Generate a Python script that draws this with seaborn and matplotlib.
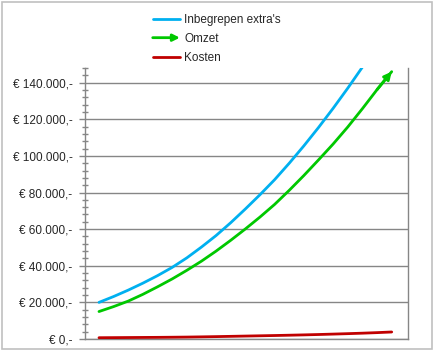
import matplotlib
matplotlib.use("Agg")
import matplotlib.pyplot as plt
import seaborn as sns
import pandas as pd
from matplotlib.patches import FancyArrowPatch, Rectangle
from matplotlib.legend_handler import HandlerBase
from matplotlib.lines import Line2D
from matplotlib.ticker import MultipleLocator, FuncFormatter

# ---- data ----
x_vals = [0, 5, 10, 15, 20, 25, 30, 35, 40, 45, 50, 55, 60, 65, 70, 75, 80, 85, 90, 95, 100]
inbegrepen = [20000, 23200, 26700, 30500, 34600, 39100, 44300, 50200, 56500, 63500, 71000,
              78800, 87000, 96000, 105500, 115500, 126000, 137000, 148500, 160500, 173000]
omzet = [15000, 17700, 20700, 24400, 28500, 32800, 37500, 42500, 48000, 53900, 60100,
         66600, 73500, 81200, 89300, 97800, 106500, 115800, 125800, 136200, 146000]
kosten = [700, 750, 800, 850, 900, 970, 1050, 1170, 1300, 1450, 1600,
          1750, 1900, 2070, 2250, 2450, 2680, 2920, 3180, 3480, 3830]
series_names = ["Inbegrepen extra's", "Omzet", "Kosten"]
colors = ["#00b0f0", "#00c800", "#c00000"]

sns.set_theme(style="white")
plt.rcParams["font.family"] = ["Liberation Sans", "DejaVu Sans"]

n = len(x_vals)
df = pd.DataFrame({
    "x": x_vals * 3,
    "waarde": inbegrepen + omzet + kosten,
    "reeks": [series_names[0]] * n + [series_names[1]] * n + [series_names[2]] * n,
})

fig = plt.figure(figsize=(4.34, 3.5), dpi=100)
ax = fig.add_axes([85 / 434, 11 / 350, (407.5 - 85) / 434, (339 - 68) / 350])

sns.lineplot(data=df, x="x", y="waarde", hue="reeks", palette=colors,
             hue_order=series_names, linewidth=2.0, ax=ax, legend=False, zorder=3)

# arrow head at end of Omzet
ax.annotate("", xy=(x_vals[-1], omzet[-1]), xytext=(x_vals[-2], omzet[-2]),
            arrowprops=dict(arrowstyle="-|>", color=colors[1], lw=2.0, mutation_scale=11,
                            shrinkA=0, shrinkB=0), zorder=4)

ax.set_xlim(-4.78, 105.4)
ax.set_ylim(0, 148000)
ax.set_xlabel("")
ax.set_ylabel("")
ax.set_xticks([])

ax.yaxis.set_major_locator(MultipleLocator(20000))
ax.yaxis.set_minor_locator(MultipleLocator(4000))


def euro(v, pos):
    if v == 0:
        return "€ 0,-"
    return "€ " + f"{int(v):,}".replace(",", ".") + ",-"


ax.yaxis.set_major_formatter(FuncFormatter(euro))
ax.tick_params(axis="y", which="major", direction="out", length=4, width=1, color="#868686",
               labelsize=8.5, pad=5, left=True)
ax.tick_params(axis="y", which="minor", direction="inout", length=5, width=1, color="#868686", left=True)
ax.grid(axis="y", which="major", color="#868686", linewidth=1.0)
ax.set_axisbelow(True)

for side in ["left", "right", "bottom"]:
    ax.spines[side].set_visible(True)
    ax.spines[side].set_color("#868686")
    ax.spines[side].set_linewidth(1.0)
ax.spines["top"].set_visible(False)


class ArrowHandler(HandlerBase):
    def create_artists(self, legend, orig_handle, xdescent, ydescent, width, height, fontsize, trans):
        y = height / 2 - ydescent
        arr = FancyArrowPatch((-xdescent, y), (-xdescent + width, y), arrowstyle="-|>",
                              mutation_scale=10, color=orig_handle.get_color(), lw=2.0,
                              shrinkA=0, shrinkB=0, transform=trans)
        return [arr]


handles = [Line2D([], [], color=c, lw=2.0) for c in colors]
fig.legend(handles, series_names, loc="upper left", bbox_to_anchor=(148 / 434, 1 - 9 / 350),
           frameon=False, fontsize=8.5, handlelength=2.3, handletextpad=0.35,
           labelspacing=0.6, borderaxespad=0,
           handler_map={handles[1]: ArrowHandler()})

fig.patches.append(Rectangle((1.5 / 434, 1.5 / 350), 430 / 434, 347 / 350, transform=fig.transFigure,
                             fill=False, edgecolor="#c0c0c0", linewidth=1.2))

fig.savefig("out.png", dpi=100)
